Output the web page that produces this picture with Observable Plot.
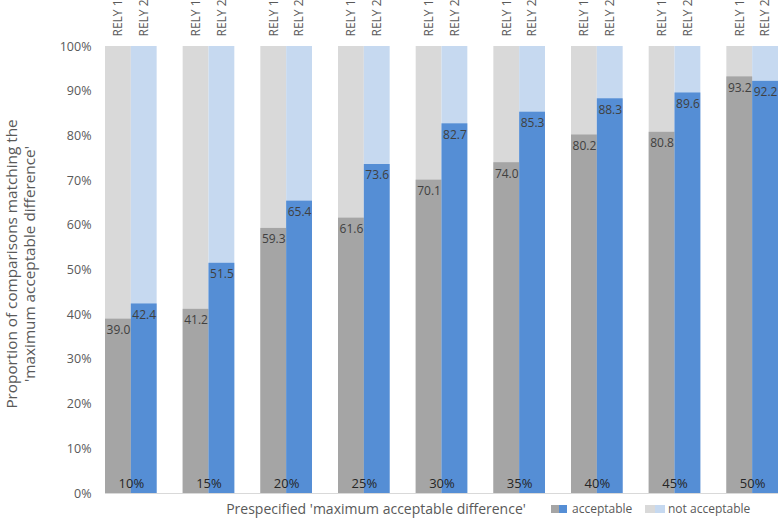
<!DOCTYPE html>
<html>
<head>
<meta charset="utf-8">
<script src="https://cdn.jsdelivr.net/npm/d3@7"></script>
<script src="https://cdn.jsdelivr.net/npm/@observablehq/plot@0.6"></script>
<style>
  body { margin: 0; background: #fff; }
  #chart { position: relative; width: 778px; height: 519px; }
</style>
</head>
<body>
<div id="chart"></div>
<script>
const thresholds = ["10%", "15%", "20%", "25%", "30%", "35%", "40%", "45%", "50%"];
const series = ["RELY 1", "RELY 2"];
const rely1 = [39.0, 41.2, 59.3, 61.6, 70.1, 74.0, 80.2, 80.8, 93.2];
const rely2 = [42.4, 51.5, 65.4, 73.6, 82.7, 85.3, 88.3, 89.6, 92.2];
const yTicks = [0, 10, 20, 30, 40, 50, 60, 70, 80, 90, 100];
const accColors = {"RELY 1": "#a5a5a5", "RELY 2": "#558ed5"};
const naColors = {"RELY 1": "#d9d9d9", "RELY 2": "#c6d9f0"};
const yLabel = ["Proportion of comparisons matching the", "'maximum acceptable difference'"];
const xLabel = "Prespecified 'maximum acceptable difference'";
const legendItems = ["acceptable", "not acceptable"];

const rows = [];
thresholds.forEach((t, i) => {
  rows.push({t, s: "RELY 1", v: rely1[i]});
  rows.push({t, s: "RELY 2", v: rely2[i]});
});

const FONT = "'Open Sans', sans-serif";

const svg = Plot.plot({
  width: 778,
  height: 519,
  marginLeft: 105,
  marginRight: 0,
  marginTop: 46,
  marginBottom: 26,
  style: {fontFamily: FONT, fontSize: "12px", color: "#595959", background: "#fff"},
  fx: {domain: thresholds, paddingInner: 0.335, paddingOuter: 0, round: false, axis: null, label: null},
  x: {domain: series, padding: 0, round: false, axis: null, label: null},
  y: {domain: [0, 100], label: null, axis: null},
  color: {type: "identity"},
  marks: [
    Plot.barY(rows, {fx: "t", x: "s", y: () => 100, fill: d => naColors[d.s]}),
    Plot.barY(rows, {fx: "t", x: "s", y: "v", fill: d => accColors[d.s]}),
    Plot.text(rows, {fx: "t", x: "s", y: "v", dy: 11, text: d => d.v.toFixed(1),
      fill: "#404040", fontSize: 12, lineAnchor: "middle"}),
    Plot.text(thresholds, {fx: d => d, y: 0, dy: -10, text: d => d,
      fill: "#262626", fontSize: 13, lineAnchor: "middle"}),
    Plot.axisX({anchor: "top", tickRotate: -90, tickSize: 0, tickPadding: 10,
      fontSize: 12, fill: "#595959", label: null}),
    Plot.axisY({anchor: "left", ticks: yTicks, tickFormat: d => d + "%", tickSize: 0,
      tickPadding: 14, fontSize: 12.5, fill: "#595959", label: null})
  ]
});

document.getElementById("chart").appendChild(svg);
const s = d3.select(svg);

// baseline
s.append("line").attr("x1", 105).attr("x2", 778).attr("y1", 493.5).attr("y2", 493.5)
  .attr("stroke", "#d9d9d9").attr("stroke-width", 1);

// y axis title
const yt = s.append("text")
  .attr("transform", "translate(0,264) rotate(-90)")
  .attr("text-anchor", "middle")
  .attr("fill", "#595959")
  .style("font-family", FONT)
  .style("font-size", "15.3px");
yLabel.forEach((l, i) => {
  yt.append("tspan").attr("x", 0).attr("dy", i === 0 ? 17 : 17.5).text(l);
});

// x axis title
s.append("text")
  .attr("x", 376).attr("y", 514)
  .attr("text-anchor", "middle")
  .attr("fill", "#595959")
  .style("font-family", FONT)
  .style("font-size", "14px")
  .text(xLabel);

// legend
const lg = s.append("g").attr("text-anchor", "start").style("font-family", FONT).style("font-size", "12px").attr("fill", "#595959");
lg.append("rect").attr("x", 551).attr("y", 505).attr("width", 8).attr("height", 8).attr("fill", accColors["RELY 1"]);
lg.append("rect").attr("x", 559).attr("y", 505).attr("width", 8).attr("height", 8).attr("fill", accColors["RELY 2"]);
lg.append("text").attr("x", 572).attr("y", 513).text(legendItems[0]);
lg.append("rect").attr("x", 645).attr("y", 505).attr("width", 10).attr("height", 8).attr("fill", naColors["RELY 1"]);
lg.append("rect").attr("x", 655).attr("y", 505).attr("width", 10).attr("height", 8).attr("fill", naColors["RELY 2"]);
lg.append("text").attr("x", 668).attr("y", 513).text(legendItems[1]);
</script>
</body>
</html>
